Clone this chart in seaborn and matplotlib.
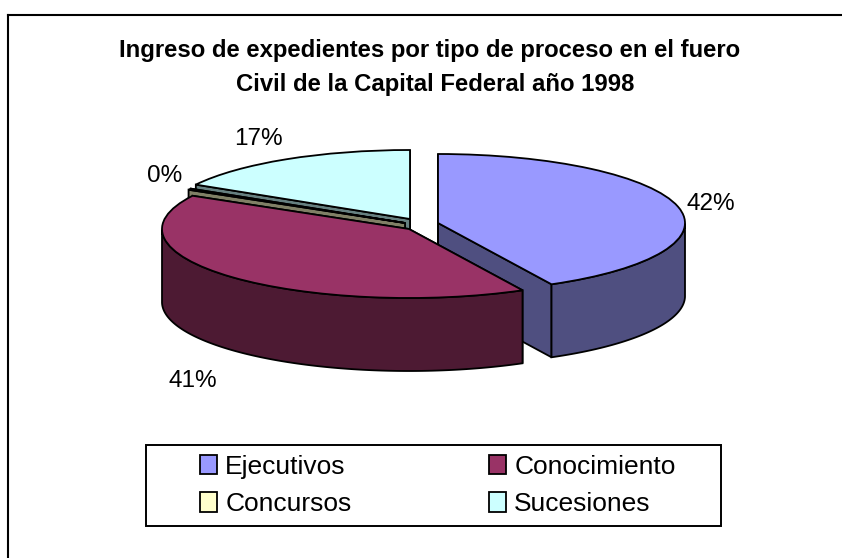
import matplotlib
matplotlib.use("Agg")
import matplotlib.pyplot as plt
from matplotlib.lines import Line2D
from matplotlib.patches import Polygon, Rectangle
import numpy as np
import seaborn as sns

# Data
categories = ["Ejecutivos", "Conocimiento", "Concursos", "Sucesiones"]
shares = [42.4, 40.6, 0.3, 16.7]
pct_labels = ["42%", "41%", "0%", "17%"]
title_lines = ["Ingreso de expedientes por tipo de proceso en el fuero",
               "Civil de la Capital Federal año 1998"]

top_colors = ["#9999FF", "#993366", "#FFFFCC", "#CCFFFF"]
side_colors = ["#4F4F80", "#4D1A33", "#808066", "#668080"]

W, H = 842, 558
RX, RY = 247, 69      # ellipse radii in pixels
BASE = (409, 229)     # centre of the pie
DEPTH = 73 / RY       # wall height in y units

# offset of each slice from BASE, in pixels
offsets = [(29, -6), (0, 0), (-4, -6), (1, -10)]
# label anchors in pixels
label_pos = [(711, 204), (193, 381), (165, 176), (258, 139)]

sns.set_theme(style="white")
plt.rcParams["font.family"] = ["Liberation Sans", "DejaVu Sans"]

fig = plt.figure(figsize=(W / 100, H / 100), dpi=100)
ax = fig.add_axes([0, 0, 1, 1])

wedges, _ = ax.pie(shares, colors=top_colors, startangle=90, counterclock=False,
                   wedgeprops={"edgecolor": "black", "linewidth": 1.3})
ax.set_aspect("auto")
ax.set_xlim(-BASE[0] / RX, (W - BASE[0]) / RX)
ax.set_ylim(-(H - BASE[1]) / RY, BASE[1] / RY)
ax.set_axis_off()


def draw_wall(points, color, z):
    ax.add_patch(Polygon(points, closed=True, facecolor=color, edgecolor="black",
                         linewidth=1.3, zorder=z))


# back to front: blue, light blue, olive, maroon
order = [0, 3, 2, 1]
for z, i in enumerate(order):
    w = wedges[i]
    cx = offsets[i][0] / RX
    cy = -offsets[i][1] / RY
    w.set_center((cx, cy))
    base_z = 2 + z * 3

    # straight walls under both cut edges
    for ang in (w.theta1, w.theta2):
        ex = cx + np.cos(np.radians(ang))
        ey = cy + np.sin(np.radians(ang))
        draw_wall([(cx, cy), (ex, ey), (ex, ey - DEPTH), (cx, cy - DEPTH)],
                  side_colors[i], base_z)

    # outer curved wall, only the part facing the viewer
    t = np.linspace(w.theta1, w.theta2, 200)
    t = t[np.sin(np.radians(t)) <= 0]
    if len(t) > 1:
        xs = cx + np.cos(np.radians(t))
        ys = cy + np.sin(np.radians(t))
        pts = list(zip(xs, ys)) + list(zip(xs[::-1], ys[::-1] - DEPTH))
        draw_wall(pts, side_colors[i], base_z + 1)

    w.set_zorder(base_z + 2)

# percent labels
for lab, (px, py) in zip(pct_labels, label_pos):
    fig.text(px / W, 1 - py / H, lab, fontsize=17.5, color="black",
             ha="center", va="center")

# title
fig.text(430 / W, 1 - 51 / H, title_lines[0], fontsize=17.2, fontweight="bold",
         color="black", ha="center", va="center")
fig.text(435 / W, 1 - 85 / H, title_lines[1], fontsize=17.2, fontweight="bold",
         color="black", ha="center", va="center")

# legend box is drawn apart, the entries sit off centre in it
fig.add_artist(Rectangle((146 / W, 1 - 525.5 / H), 575 / W, 80.5 / H,
                         facecolor="white", edgecolor="black", linewidth=1.4,
                         transform=fig.transFigure, zorder=1))
# matplotlib fills columns first, reorder so the rows read like the picture
leg_order = [0, 2, 1, 3]
leg = fig.legend([wedges[i] for i in leg_order], [categories[i] for i in leg_order],
                 ncol=2, loc="center left",
                 bbox_to_anchor=(200 / W, 1 - 485.5 / H), fontsize=19,
                 frameon=False, labelcolor="black",
                 handlelength=0.65, handleheight=0.75, handletextpad=0.31,
                 columnspacing=5.2, labelspacing=0.5, borderpad=0,
                 borderaxespad=0)
leg.set_zorder(5)
for handle in leg.legend_handles:
    handle.set_linewidth(1.3)

# chart frame, only top and left fall inside the picture
fig.add_artist(Line2D([8 / W, 8 / W], [0, 1 - 15 / H], color="black", linewidth=1.5,
                      solid_capstyle="projecting", transform=fig.transFigure))
fig.add_artist(Line2D([8 / W, 1], [1 - 15 / H, 1 - 15 / H], color="black", linewidth=1.5,
                      solid_capstyle="projecting", transform=fig.transFigure))

fig.savefig("out.png", dpi=100, facecolor="white")
